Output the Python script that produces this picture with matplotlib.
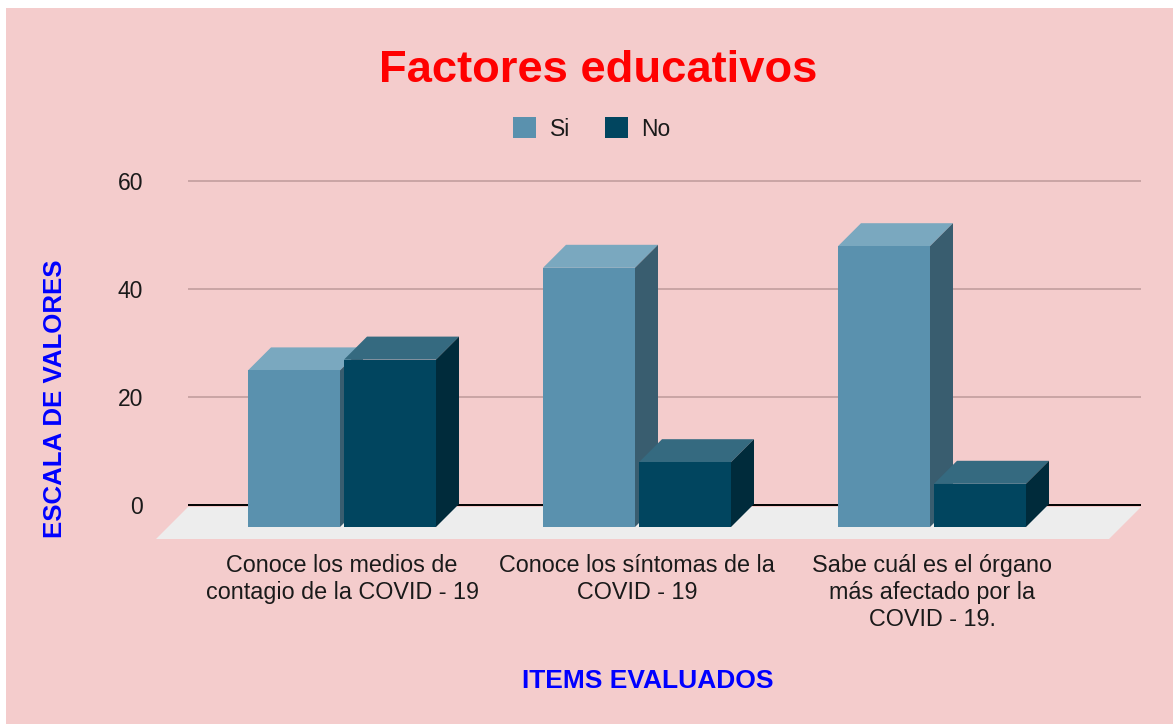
import matplotlib.pyplot as plt
import numpy as np
from matplotlib.patches import Polygon, Rectangle

plt.rcParams['font.family'] = ['Liberation Sans', 'DejaVu Sans']

categories = ["Conoce los medios de\ncontagio de la COVID - 19",
              "Conoce los síntomas de la\nCOVID - 19",
              "Sabe cuál es el órgano\nmás afectado por la\nCOVID - 19."]
si_values = [29, 48, 52]
no_values = [31, 12, 8]
series_names = ["Si", "No"]
y_ticks = [0, 20, 40, 60]

W, H = 1173, 724
# colors: front, top, side
si_cols = ('#5a91ae', '#7aa8bf', '#395d6f')
no_cols = ('#01455f', '#356a80', '#002b3b')
bg = '#f4cccc'

fig = plt.figure(figsize=(W / 100, H / 100), dpi=100)
fig.patch.set_facecolor('white')
fig.patches.append(Rectangle((6 / W, 0), 1 - 6 / W, 1 - 8 / H, transform=fig.transFigure,
                             facecolor=bg, edgecolor='none', zorder=-10))

# axes mapped so that bar fronts sit at pixel 527 (value 0) with 5.4 px per unit
px_unit = 5.4
cat_px = 295.0
x0_px = 342.0
left_px, right_px = 156, 1141
ax = fig.add_axes([left_px / W, (H - 527) / H, (right_px - left_px) / W, 60 * px_unit / H])
ax.set_xlim((left_px - x0_px) / cat_px, (right_px - x0_px) / cat_px)
ax.set_ylim(0, 60)
ax.axis('off')

def dx(px):
    return px / cat_px

def dy(px):
    return px / px_unit

back = dy(22)
# floor
floor = Polygon([(dx(156 - x0_px), dy(-12)), (dx(1109 - x0_px), dy(-12)),
                 (dx(1141 - x0_px), dy(20)), (dx(188 - x0_px), dy(20))],
                closed=True, facecolor='#ededed', edgecolor='none', zorder=1, clip_on=False)
ax.add_patch(floor)

# gridlines on back plane
for t in y_ticks:
    col = 'black' if t == 0 else '#c29e9e'
    lw = 1.4 if t == 0 else 1.2
    ax.plot([dx(188 - x0_px), dx(1141 - x0_px)], [t + back, t + back], color=col, lw=lw,
            zorder=0.5, clip_on=False, solid_capstyle='butt')
    ax.text(dx(143 - x0_px), t + back - dy(3), str(t), ha='right', va='center', fontsize=16.5,
            color='#1a1a1a', clip_on=False)

x = np.arange(len(categories))
w = dx(92)
off = dx(48)
ddx, ddy = dx(23), dy(23)

def bar3d(xs, vals, cols, z):
    ax.bar(xs, vals, w, color=cols[0], edgecolor='none', zorder=z + 0.2, clip_on=False)
    for c, h in zip(xs, vals):
        top = Polygon([(c - w / 2, h), (c + w / 2, h), (c + w / 2 + ddx, h + ddy),
                       (c - w / 2 + ddx, h + ddy)], closed=True, facecolor=cols[1],
                      edgecolor='none', zorder=z, clip_on=False)
        side = Polygon([(c + w / 2, 0), (c + w / 2 + ddx, ddy), (c + w / 2 + ddx, h + ddy),
                        (c + w / 2, h)], closed=True, facecolor=cols[2],
                       edgecolor='none', zorder=z, clip_on=False)
        ax.add_patch(top)
        ax.add_patch(side)

bar3d(x - off, si_values, si_cols, 2)
bar3d(x + off, no_values, no_cols, 3)

for c, lab in zip(x, categories):
    ax.text(c, dy(-27), lab, ha='center', va='top', fontsize=16.8, color='#1a1a1a',
            linespacing=1.22, clip_on=False)

# title, legend, axis labels
fig.text(598 / W, 1 - 70 / H, "Factores educativos", ha='center', va='center',
         fontsize=32.7, fontweight='bold', color='red')
handles = [Rectangle((0, 0), 1, 1, facecolor=si_cols[0]), Rectangle((0, 0), 1, 1, facecolor=no_cols[0])]
fig.legend(handles, series_names, loc='center', bbox_to_anchor=(592 / W, 1 - 129 / H),
           ncol=2, frameon=False, fontsize=16.5, handlelength=1.0, handleheight=1.0,
           handletextpad=0.6, columnspacing=1.5, labelcolor='#1a1a1a')
fig.text(55 / W, 1 - 399 / H, "ESCALA DE VALORES", rotation=90, ha='center', va='center',
         fontsize=18.6, fontweight='bold', color='blue')
fig.text(648 / W, 1 - 681 / H, "ITEMS EVALUADOS", ha='center', va='center',
         fontsize=19, fontweight='bold', color='blue')

fig.savefig("out.png", dpi=100, facecolor=fig.get_facecolor())
